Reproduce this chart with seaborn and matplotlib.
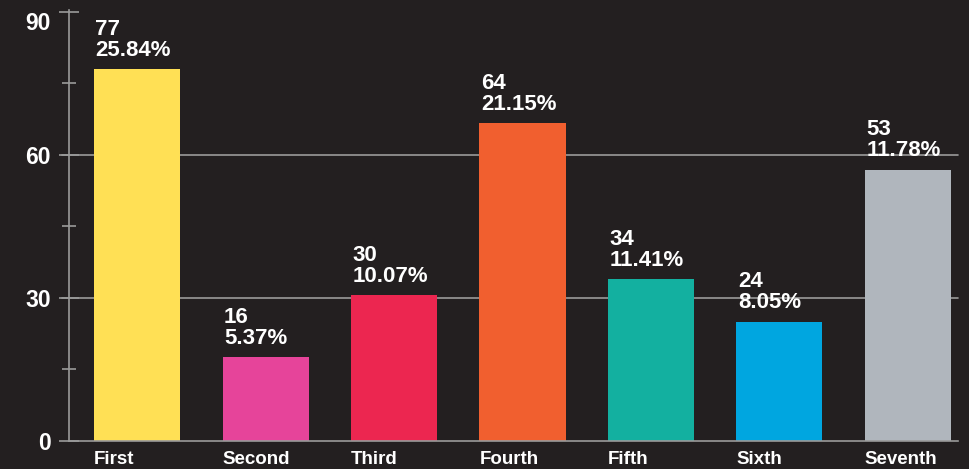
import matplotlib
matplotlib.use("Agg")
import matplotlib.pyplot as plt
import pandas as pd
import seaborn as sns
from matplotlib.ticker import MultipleLocator

# %%
# Data
categories = ["First", "Second", "Third", "Fourth", "Fifth", "Sixth", "Seventh"]
heights = [78.0, 17.6, 30.6, 66.7, 34.0, 25.0, 56.9]
counts = ["77", "16", "30", "64", "34", "24", "53"]
shares = ["25.84%", "5.37%", "10.07%", "21.15%", "11.41%", "8.05%", "11.78%"]
colors = ["#ffe055", "#e6449a", "#ec2650", "#f15f2f", "#13b0a0", "#00a6e0", "#b0b6bd"]
y_ticks = [0, 30, 60, 90]

BG = "#231f20"
LINE = "#9a9a9a"
BAR_W = 0.67

df = pd.DataFrame({"category": categories, "height": heights})

# %%
sns.set_style("dark")
plt.rcParams["font.family"] = ["Liberation Sans", "DejaVu Sans"]
plt.rcParams["font.weight"] = "bold"

fig = plt.figure(figsize=(9.7, 4.69), dpi=100, facecolor=BG)
ax = fig.add_axes([69 / 970, 28 / 469, (958 - 69) / 970, (441 - 10) / 469])
ax.set_facecolor(BG)

sns.barplot(data=df, x="category", y="height", hue="category",
            palette=colors, legend=False, width=BAR_W, saturation=1,
            edgecolor="none", linewidth=0, ax=ax, zorder=3)

ax.set_xlim(-0.53, 6.39)
ax.set_ylim(0, 90.4)

# grid lines only at 30 and 60
for yv in y_ticks[1:-1]:
    ax.axhline(yv, xmin=-7 / 889, xmax=1, color=LINE, lw=1.2, zorder=1,
               clip_on=False)

for side in ("top", "right"):
    ax.spines[side].set_visible(False)
for side in ("left", "bottom"):
    ax.spines[side].set_visible(True)
    ax.spines[side].set_color(LINE)
    ax.spines[side].set_linewidth(1.2)
ax.spines["bottom"].set_zorder(4)

ax.set_yticks(y_ticks, [str(v) for v in y_ticks], fontsize=16.5,
              fontweight="bold", family=["Liberation Sans"])
ax.yaxis.set_minor_locator(MultipleLocator(15))
ax.tick_params(axis="y", which="major", direction="inout", length=14,
               width=1.2, color=LINE, labelcolor="white", pad=6, left=True)
ax.tick_params(axis="y", which="minor", direction="inout", length=10,
               width=1.2, color=LINE, left=True)
# top label sits below its tick, as in the reference
ax.get_yticklabels()[-1].set_va("top")

# category names sit left-aligned under each bar
ax.set_xticks([i - BAR_W / 2 for i in range(len(categories))], categories,
              ha="left", fontsize=13.5, fontweight="bold",
              family=["Liberation Sans"])
ax.tick_params(axis="x", length=0, labelcolor="white", pad=7)

ax.set_xlabel("")
ax.set_ylabel("")
ax.grid(False)

# value labels: count and share, left-aligned to bar edge
for i, (h, c, s) in enumerate(zip(heights, counts, shares)):
    ax.annotate(f"{c}\n{s}", xy=(i - BAR_W / 2, h), xytext=(1, 6),
                textcoords="offset points", ha="left", va="bottom",
                color="white", fontsize=16, fontweight="bold",
                linespacing=1.0, zorder=5)

fig.savefig("out.png", dpi=100, facecolor=BG)
